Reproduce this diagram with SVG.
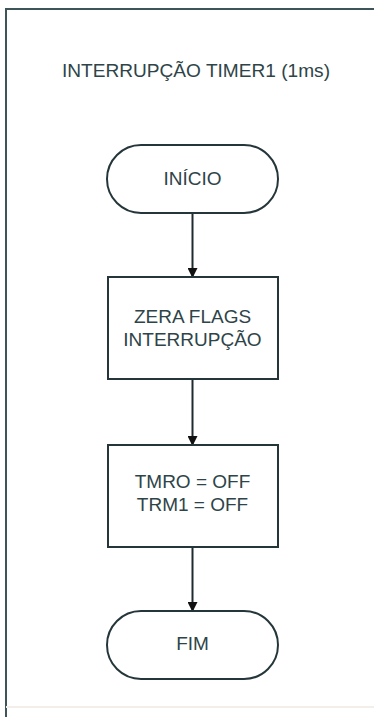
<svg xmlns="http://www.w3.org/2000/svg" width="374" height="717" viewBox="0 0 374 717">
<style>
.frame{fill:none;stroke:#3d5459;stroke-width:2}
.shape{fill:#ffffff;stroke:#25363a;stroke-width:2}
.lbl{font-family:"Liberation Sans",Arial,sans-serif;font-size:19px;fill:#2e4448;text-anchor:middle}
.title{font-family:"Liberation Sans",Arial,sans-serif;font-size:19px;fill:#2e4448}
.conn{stroke:#1f2b2e;stroke-width:2;fill:none;marker-end:url(#arr)}
</style>
<defs>
<marker id="arr" markerWidth="10" markerHeight="10" refX="9" refY="5" orient="auto" markerUnits="userSpaceOnUse">
<path d="M0,0 L10,5 L0,10 Z" fill="#111"/>
</marker>
</defs>
<rect width="374" height="717" fill="#ffffff"/>
<g id="frame">
<path class="frame" d="M6,717 L6,9 L374,9"/>
<line x1="6" y1="707" x2="374" y2="707" stroke="#f3eeea" stroke-width="2"/>
</g>
<text class="title" x="62" y="77" textLength="268" lengthAdjust="spacingAndGlyphs">INTERRUPÇÃO TIMER1 (1ms)</text>
<g id="connectors">
<line class="conn" x1="192.5" y1="213" x2="192.5" y2="277"/>
<line class="conn" x1="192.5" y1="379" x2="192.5" y2="445"/>
<line class="conn" x1="192.5" y1="547" x2="192.5" y2="611"/>
</g>
<g id="inicio">
<rect class="shape" x="107" y="145" width="171" height="68" rx="34" ry="34"/>
<text class="lbl" x="192.5" y="185">INÍCIO</text>
</g>
<g id="zera">
<rect class="shape" x="108" y="277" width="170" height="102"/>
<text class="lbl" x="192.5" y="323">ZERA FLAGS</text>
<text class="lbl" x="192.5" y="346">INTERRUPÇÃO</text>
</g>
<g id="timers">
<rect class="shape" x="108" y="445" width="170" height="102"/>
<text class="lbl" x="192.5" y="488">TMRO = OFF</text>
<text class="lbl" x="192.5" y="511">TRM1 = OFF</text>
</g>
<g id="fim">
<rect class="shape" x="107" y="611" width="171" height="68" rx="34" ry="34"/>
<text class="lbl" x="192.5" y="650">FIM</text>
</g>
</svg>
